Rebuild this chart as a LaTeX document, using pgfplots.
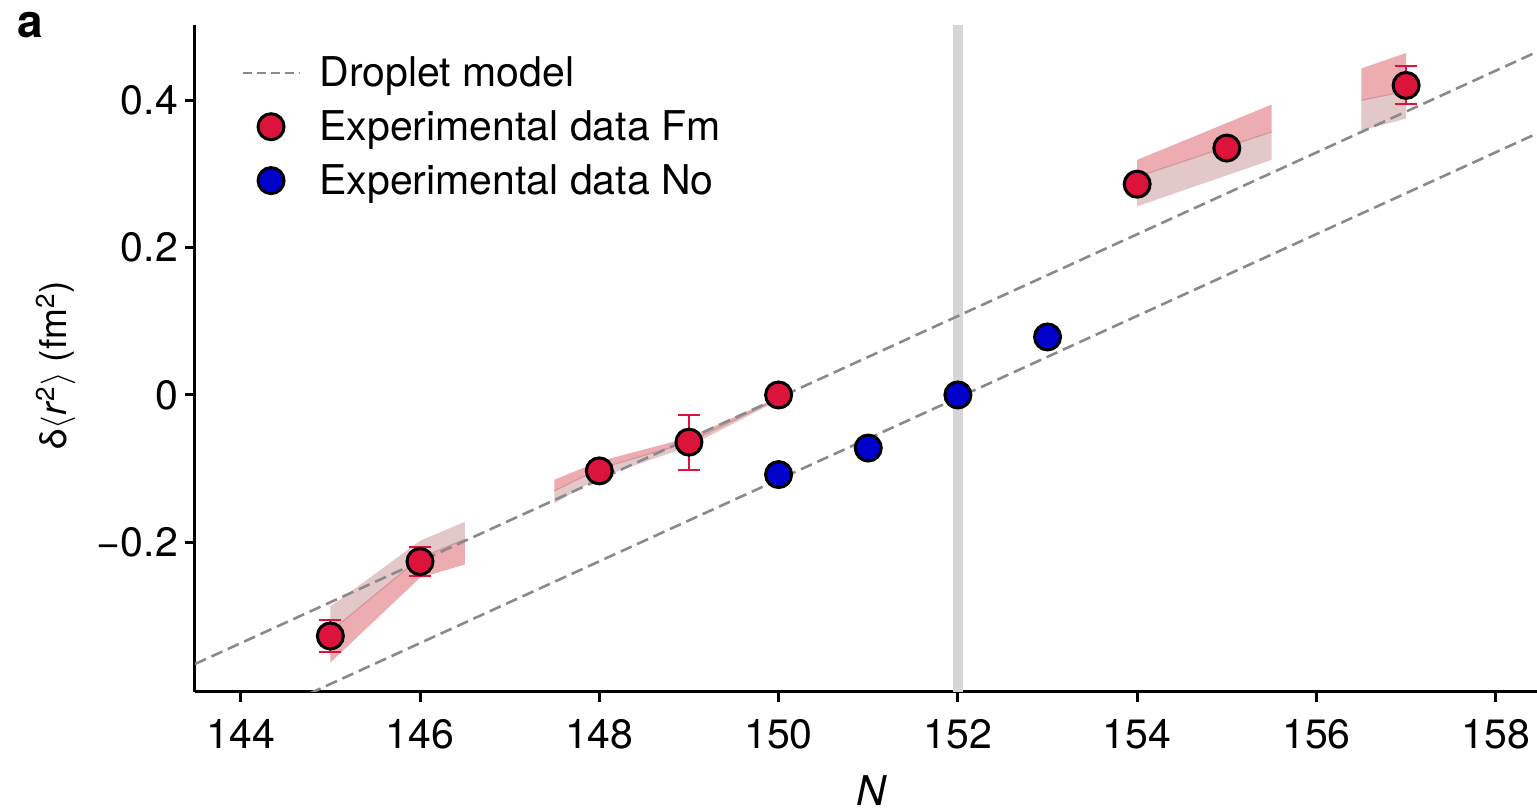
\documentclass[border=0pt]{standalone}
\usepackage{fontspec}
\setmainfont{TeX Gyre Heros}
\usepackage{pgfplots}
\pgfplotsset{compat=1.18}
\definecolor{fmred}{RGB}{220,20,60}
\definecolor{noblue}{RGB}{0,0,205}
\definecolor{dropgray}{RGB}{138,138,138}
\definecolor{vband}{RGB}{214,214,214}
\definecolor{bandred}{RGB}{236,172,176}
\definecolor{bandgray}{RGB}{226,200,201}
\definecolor{bandline}{RGB}{214,150,155}
\pgfplotsset{
  dashlegend/.style={legend image code/.code={\draw[##1, line width=0.9pt, dash pattern=on 4.5pt off 2.5pt] (0pt,0pt) -- (28.5pt,0pt); \path[draw=none, fill=none] (0pt,-0.1pt) rectangle (36.5pt,0.1pt);}},
  marklegend/.style={legend image code/.code={\draw[##1] plot coordinates {(14.25pt,0pt)}; \path[draw=none, fill=none] (0pt,-0.1pt) rectangle (36.5pt,0.1pt);}},
}
\begin{document}
\begin{tikzpicture}
\path[use as bounding box] (-97.5pt,-60pt) rectangle (671pt,346pt);
\begin{axis}[
  at={(0pt,0pt)}, anchor=south west,
  scale only axis, width=671pt, height=333.5pt,
  xmin=143.49, xmax=158.46, ymin=-0.403, ymax=0.502,
  axis x line=bottom, axis y line=left,
  axis line style={line width=1.5pt, -},
  xtick={144,146,148,150,152,154,156,158},
  xticklabels={144,146,148,150,152,154,156,158},
  ytick={-0.2,0,0.2,0.4},
  yticklabels={−0.2,0,0.2,0.4},
  tick style={line width=1.5pt, black},
  tick align=outside, major tick length=5pt,
  tick label style={font=\fontsize{20.5}{24}\selectfont},
  xticklabel style={yshift=-5pt},
  xlabel={\textit{N}},
  xlabel style={at={(axis description cs:0.5045,-0.1709)}, anchor=base, inner sep=0pt, font=\fontsize{20.5}{24}\selectfont},
  ylabel={δ$\langle$\textit{r}\textsuperscript{2}$\rangle$ (fm\textsuperscript{2})},
  ylabel style={at={(axis description cs:-0.104,0.49)}, anchor=center, font=\fontsize{18.5}{22}\selectfont},
  legend style={draw=none, fill=none, at={(axis description cs:0.03,0.9655)}, anchor=north west,
    font=\fontsize{20.5}{24}\selectfont, row sep=6.5pt},
  legend cell align=left,
  clip mode=individual,
]
% vertical line at N=152
\addplot[vband, line width=5pt, forget plot] coordinates {(152,-0.403) (152,0.502)};

% theory bands
% segment 1 (upper gray, lower red)
\addplot[fill=bandgray, draw=none, forget plot] coordinates {(145,-0.287) (146,-0.198) (146.5,-0.172) (146.5,-0.196) (146,-0.221) (145,-0.321)} -- cycle;
\addplot[fill=bandred, draw=none, forget plot] coordinates {(145,-0.321) (146,-0.221) (146.5,-0.196) (146.5,-0.23) (146,-0.248) (145,-0.363)} -- cycle;
\addplot[bandline, line width=0.6pt, forget plot] coordinates {(145,-0.321) (146,-0.221) (146.5,-0.196)};
% segment 2
\addplot[fill=bandred, draw=none, forget plot] coordinates {(147.5,-0.115) (148,-0.09) (149,-0.058) (150,-0.003) (150,-0.005) (149,-0.064) (148,-0.1) (147.5,-0.13)} -- cycle;
\addplot[fill=bandgray, draw=none, forget plot] coordinates {(147.5,-0.13) (148,-0.1) (149,-0.064) (150,-0.005) (150,-0.007) (149,-0.07) (148,-0.112) (147.5,-0.147)} -- cycle;
\addplot[bandline, line width=0.6pt, forget plot] coordinates {(147.5,-0.13) (148,-0.1) (149,-0.064) (150,-0.005)};
% segment 3
\addplot[fill=bandred, draw=none, forget plot] coordinates {(154,0.319) (155.5,0.394) (155.5,0.357) (154,0.296)} -- cycle;
\addplot[fill=bandgray, draw=none, forget plot] coordinates {(154,0.296) (155.5,0.357) (155.5,0.319) (154,0.256)} -- cycle;
\addplot[bandline, line width=0.6pt, forget plot] coordinates {(154,0.296) (155.5,0.357)};
% segment 4
\addplot[fill=bandred, draw=none, forget plot] coordinates {(156.5,0.443) (157,0.464) (157,0.412) (156.5,0.4)} -- cycle;
\addplot[fill=bandgray, draw=none, forget plot] coordinates {(156.5,0.4) (157,0.412) (157,0.375) (156.5,0.359)} -- cycle;
\addplot[bandline, line width=0.6pt, forget plot] coordinates {(156.5,0.4) (157,0.412)};

% droplet model lines
\addplot[dropgray, line width=1.3pt, dash pattern=on 6pt off 3pt, dashlegend]
  coordinates {(143.49,-0.365) (158.46,0.4655)};
\addlegendentry{Droplet model}
\addplot[dropgray, line width=1.3pt, dash pattern=on 6pt off 3pt, forget plot]
  coordinates {(143.49,-0.476) (158.46,0.3548)};

% error bars (Fm)
\addplot[fmred, only marks, mark=none, forget plot,
  error bars/.cd, y dir=both, y explicit, error mark=|,
  error bar style={fmred, line width=1pt},
  error mark options={fmred, line width=1pt, mark size=5.5pt}]
  coordinates {
  (145,-0.327) +- (0,0.022)
  (146,-0.226) +- (0,0.0197)
  (149,-0.064) +- (0,0.0373)
  (157,0.420) +- (0,0.0258)
  };

% Fm data
\addplot[only marks, mark=*, mark size=6.5pt, mark options={draw=black, fill=fmred, line width=1.5pt}, marklegend]
  coordinates {
  (145,-0.327) (146,-0.226) (148,-0.103) (149,-0.064) (150,0.0)
  (154,0.286) (155,0.335) (157,0.420)
  };
\addlegendentry{Experimental data Fm}

% No data
\addplot[only marks, mark=*, mark size=6.5pt, mark options={draw=black, fill=noblue, line width=1.5pt}, marklegend]
  coordinates {
  (150,-0.108) (151,-0.072) (152,0.0) (153,0.0787)
  };
\addlegendentry{Experimental data No}

\node[font=\bfseries\fontsize{23}{27}\selectfont] at (axis description cs:-0.123,1.0) {a};
\end{axis}
\end{tikzpicture}
\end{document}
